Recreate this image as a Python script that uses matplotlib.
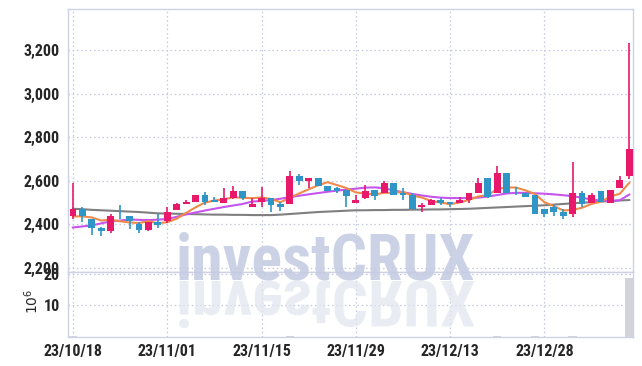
import matplotlib
matplotlib.use("Agg")
import matplotlib.pyplot as plt
import numpy as np
import pandas as pd
from matplotlib.textpath import TextPath
from matplotlib.font_manager import FontProperties
from matplotlib.patches import PathPatch
from matplotlib.transforms import Affine2D

# ---------------- data ----------------
opens = [2437, 2473, 2423, 2386, 2368, 2441, 2441, 2400, 2373, 2409,
         2414, 2468, 2496, 2505, 2537, 2510, 2500, 2523, 2555, 2482,
         2505, 2523, 2496, 2496, 2620, 2601, 2615, 2578, 2565, 2560,
         2500, 2523, 2560, 2542, 2592, 2542, 2533, 2478, 2487, 2510,
         2505, 2500, 2514, 2546, 2615, 2546, 2638, 2546, 2546, 2533,
         2469, 2478, 2455, 2450, 2542, 2500, 2555, 2500, 2565, 2620]
highs = [2592, 2478, 2425, 2390, 2446, 2487, 2441, 2409, 2409, 2446,
         2482, 2500, 2510, 2537, 2551, 2528, 2569, 2578, 2555, 2523,
         2574, 2523, 2505, 2643, 2633, 2615, 2615, 2578, 2574, 2560,
         2533, 2583, 2560, 2601, 2592, 2565, 2546, 2500, 2519, 2523,
         2505, 2528, 2546, 2615, 2615, 2670, 2638, 2574, 2546, 2533,
         2469, 2487, 2469, 2688, 2555, 2542, 2555, 2560, 2620, 3230]
lows = [2423, 2409, 2350, 2345, 2359, 2423, 2377, 2363, 2368, 2386,
        2405, 2468, 2496, 2505, 2491, 2505, 2500, 2519, 2510, 2482,
        2482, 2455, 2464, 2496, 2583, 2565, 2578, 2555, 2546, 2478,
        2500, 2519, 2510, 2542, 2533, 2510, 2473, 2455, 2487, 2487,
        2482, 2500, 2500, 2546, 2523, 2546, 2546, 2537, 2528, 2446,
        2432, 2437, 2423, 2432, 2478, 2500, 2505, 2500, 2565, 2610]
closes = [2473, 2441, 2386, 2368, 2441, 2437, 2414, 2373, 2409, 2396,
          2459, 2496, 2505, 2537, 2505, 2505, 2523, 2555, 2523, 2496,
          2523, 2487, 2482, 2620, 2601, 2615, 2578, 2555, 2555, 2532,
          2514, 2555, 2532, 2592, 2533, 2533, 2473, 2487, 2510, 2500,
          2496, 2510, 2546, 2592, 2528, 2638, 2546, 2542, 2528, 2446,
          2450, 2455, 2441, 2542, 2496, 2537, 2505, 2560, 2606, 2748]
volumes = [0.3, 0.05, 0.05, 0.05, 0.05, 0.05, 0.05, 0.05, 0.05, 0.05,
           0.05, 0.05, 0.05, 0.05, 0.05, 0.05, 0.05, 0.05, 0.05, 0.05,
           0.05, 0.05, 0.05, 0.35, 0.05, 0.05, 0.05, 0.05, 0.05, 0.05,
           0.05, 0.05, 0.05, 0.05, 0.05, 0.05, 0.05, 0.05, 0.05, 0.05,
           0.05, 0.05, 0.05, 0.05, 0.05, 0.35, 0.05, 0.05, 0.05, 0.3,
           0.05, 0.05, 0.05, 0.45, 0.05, 0.05, 0.05, 0.05, 0.05, 18.7]
ma5_head = [2437, 2437, 2432, 2418]
ma20 = [2386, 2391, 2396, 2405, 2414, 2418, 2423, 2421, 2420, 2422,
        2425, 2435, 2446, 2455, 2464, 2472, 2480, 2487, 2494, 2505,
        2508, 2512, 2518, 2525, 2532, 2538, 2544, 2550, 2555, 2560,
        2564, 2569, 2570, 2566, 2556, 2548, 2540, 2533, 2527, 2523,
        2521, 2521, 2521, 2523, 2528, 2535, 2542, 2545, 2545, 2543,
        2541, 2538, 2534, 2530, 2522, 2515, 2509, 2507, 2511, 2537]
ma60 = [2472, 2470, 2467, 2465, 2463, 2461, 2459, 2457, 2454, 2451,
        2450, 2449, 2448, 2447, 2446, 2445, 2445, 2444, 2444, 2443,
        2443, 2443, 2445, 2448, 2451, 2454, 2457, 2459, 2461, 2463,
        2465, 2465, 2466, 2466, 2467, 2467, 2468, 2468, 2469, 2469,
        2470, 2471, 2472, 2474, 2476, 2478, 2480, 2482, 2484, 2486,
        2488, 2491, 2494, 2497, 2500, 2502, 2505, 2507, 2510, 2512]
tick_pos = [0, 10, 20, 30, 40, 50]
tick_labels = ["23/10/18", "23/11/01", "23/11/15", "23/11/29", "23/12/13", "23/12/28"]
price_ticks = [2200, 2400, 2600, 2800, 3000, 3200]
vol_ticks = [10, 20]

# ---------------- styling ----------------
UP = "#e8196b"
DOWN = "#2f95c6"
GRID = "#c3c7de"
SPINE = "#cfd2e4"
TXT = "#262626"
FONT = ["Roboto Condensed", "Liberation Sans Narrow", "Liberation Sans", "DejaVu Sans"]

W, H = 642, 366
fig = plt.figure(figsize=(W / 100, H / 100), dpi=100)
ax = fig.add_axes([68 / W, (H - 272) / H, 565 / W, 263 / H])
axv = fig.add_axes([68 / W, (H - 337) / H, 565 / W, 65 / H], sharex=ax)

x = np.arange(len(closes))
o = np.array(opens, float); c = np.array(closes, float)
hi = np.array(highs, float); lo = np.array(lows, float)
up = c >= o
cols = np.where(up, UP, DOWN)

ma5 = pd.Series(closes, dtype=float).rolling(5).mean().to_numpy()
ma5[:4] = ma5_head

ax.plot(x, ma60, color="#7f7f7f", lw=1.5, zorder=2)
ax.plot(x, ma20, color="#c655ee", lw=1.5, zorder=2)
ax.plot(x, ma5, color="#ef8a4a", lw=1.5, zorder=2)

ax.vlines(x, lo, hi, colors=cols, lw=1.2, zorder=3)
body_h = np.maximum(np.abs(c - o), 4)
body_b = np.minimum(o, c)
ax.bar(x, body_h, bottom=body_b, width=0.72, color=cols, zorder=4, linewidth=0)

ax.set_ylim(2182, 3388)
ax.set_xlim(-0.53, 59.4)
ax.set_yticks(price_ticks)
ax.set_yticklabels([f"{v:,}" for v in price_ticks])
ax.set_xticks(tick_pos)
ax.tick_params(axis="x", labelbottom=False, length=0)
ax.tick_params(axis="y", length=0, pad=6, labelsize=11.5, labelcolor=TXT)
ax.grid(True, linestyle=(0, (1.2, 2.2)), color=GRID, lw=0.9)
ax.set_axisbelow(True)

axv.bar(x, volumes, width=0.9, color="#d3d3db", linewidth=0, zorder=3)
axv.set_ylim(0, 20.6)
axv.set_yticks(vol_ticks)
axv.set_xticks(tick_pos)
axv.set_xticklabels(tick_labels)
axv.tick_params(axis="y", length=0, pad=6, labelsize=11.5, labelcolor=TXT)
axv.tick_params(axis="x", length=0, pad=5, labelsize=11.5, labelcolor=TXT)
axv.grid(True, linestyle=(0, (1.2, 2.2)), color=GRID, lw=0.9)
axv.set_axisbelow(True)

for a in (ax, axv):
    for s in a.spines.values():
        s.set_color(SPINE)
        s.set_linewidth(1.0)
    for lab in a.get_xticklabels() + a.get_yticklabels():
        lab.set_family(FONT)
        lab.set_fontweight("bold")

fig.text(32 / W, (H - 301) / H, r"$10^6$", rotation=90, ha="center", va="center",
         fontsize=10, color=TXT)

# watermark
WM = "#c4cbe2"
WMSIZE = 46
fig.text(176 / W, (H - 279) / H, "investCRUX", family=FONT, fontweight="bold",
         fontsize=WMSIZE, color=WM, alpha=0.85, ha="left", va="baseline", zorder=1)
fp = FontProperties(family=FONT, weight="bold")
tp = TextPath((0, 0), "investCRUX", prop=fp, size=WMSIZE * 100 / 72)
refl = PathPatch(tp, transform=Affine2D().scale(1, -1).translate(176, H - 281),
                 facecolor="#e2e5ef", edgecolor="none", alpha=0.7, zorder=1)
fig.add_artist(refl)

fig.savefig("out.png", dpi=100)
